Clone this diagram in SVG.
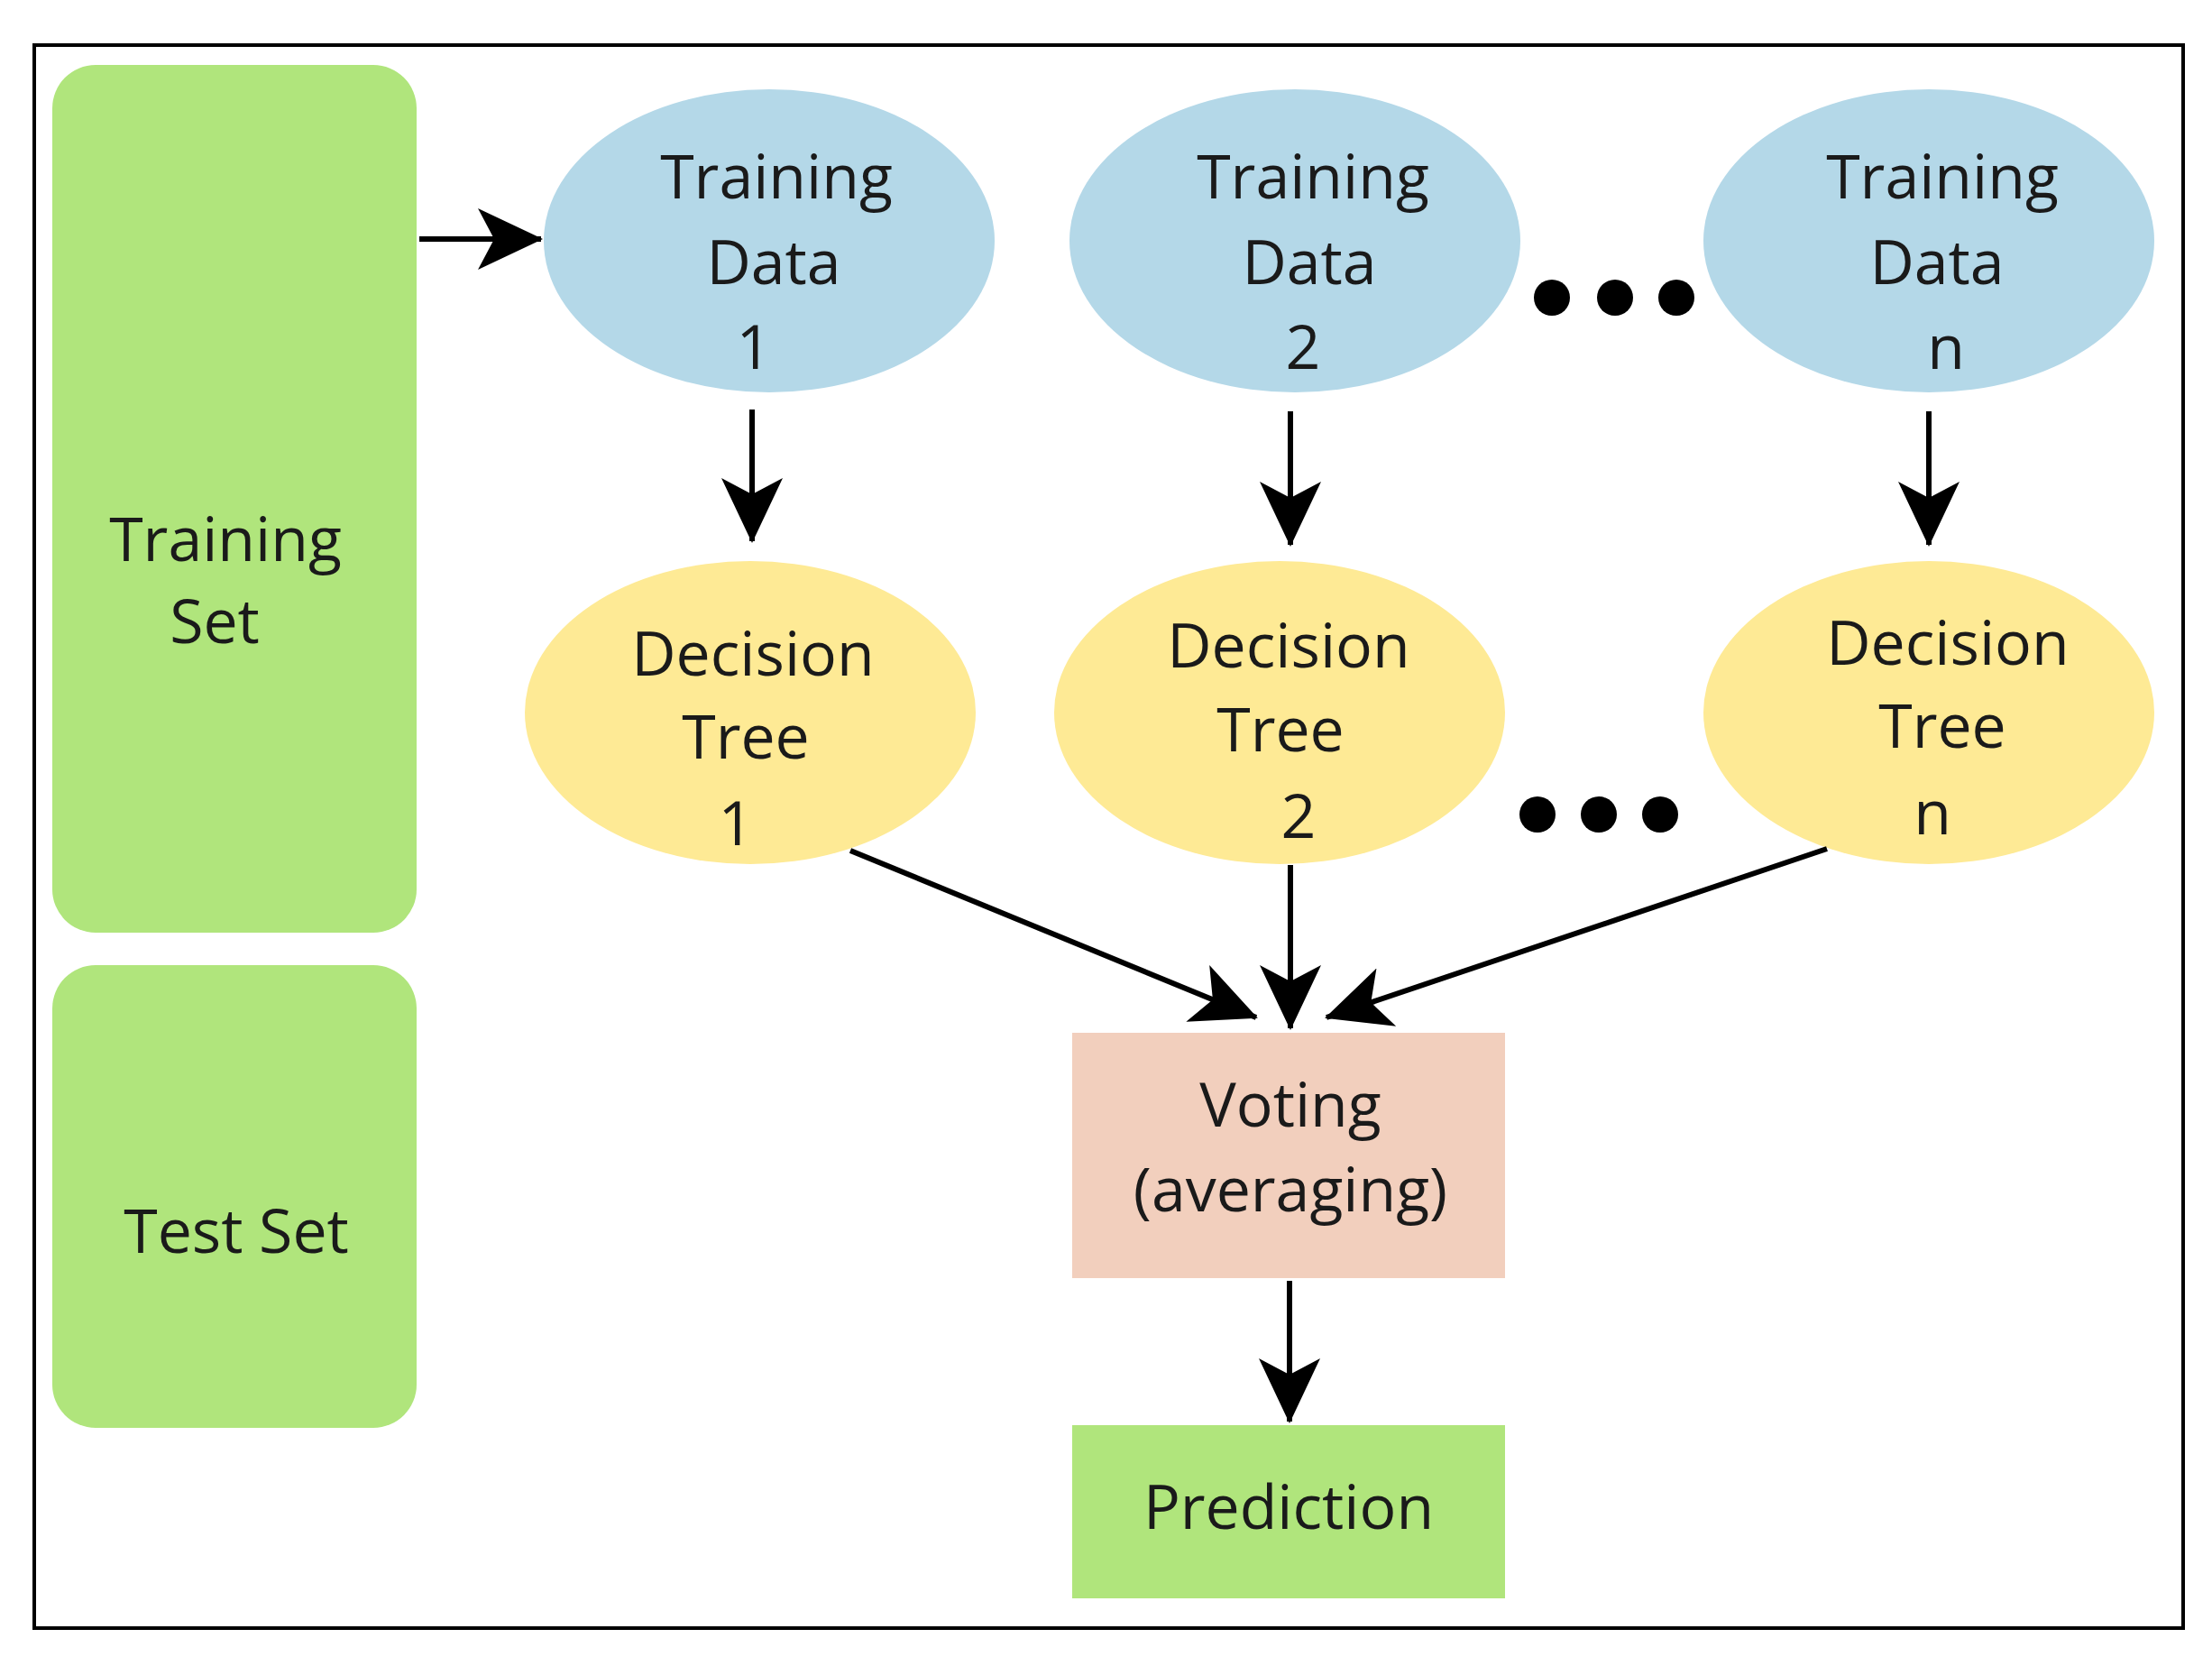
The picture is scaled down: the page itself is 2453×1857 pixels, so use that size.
<svg xmlns="http://www.w3.org/2000/svg" width="2453" height="1857" viewBox="0 0 2453 1857">
<style>
.t{font-family:"Open Sans","Noto Sans",sans-serif;font-size:68px;fill:#1a1a1a;text-anchor:middle;dominant-baseline:central}
.c{stroke:#000;stroke-width:6;fill:none;marker-end:url(#ah)}
.g{fill:#b0e57c}.b{fill:#b4d8e8}.y{fill:#feea95}.p{fill:#f2cfbd}
</style>
<defs><marker id="ah" markerUnits="userSpaceOnUse" markerWidth="80" markerHeight="80" viewBox="0 0 80 80" refX="70" refY="40" orient="auto"><path d="M0,6 L72,40 L0,74 L18,40 Z" fill="#000"/></marker></defs>
<rect x="38" y="50" width="2383" height="1755" fill="#fff" stroke="#000" stroke-width="4"/>
<g id="trainingset"><rect class="g" x="58" y="72" width="404" height="962" rx="48"/><text class="t" x="250" y="595">Training</text><text class="t" x="238" y="686">Set</text></g>
<g id="testset"><rect class="g" x="58" y="1070" width="404" height="513" rx="48"/><text class="t" x="262" y="1362">Test Set</text></g>
<g id="td1"><ellipse class="b" cx="853" cy="267" rx="250" ry="168"/><text class="t" x="861" y="193">Training</text><text class="t" x="858" y="288">Data</text><text class="t" x="836" y="382">1</text></g>
<g id="td2"><ellipse class="b" cx="1436" cy="267" rx="250" ry="168"/><text class="t" x="1456" y="193">Training</text><text class="t" x="1452" y="288">Data</text><text class="t" x="1445" y="382">2</text></g>
<g id="tdn"><ellipse class="b" cx="2139" cy="267" rx="250" ry="168"/><text class="t" x="2154" y="193">Training</text><text class="t" x="2148" y="288">Data</text><text class="t" x="2158" y="382">n</text></g>
<g id="dt1"><ellipse class="y" cx="832" cy="790" rx="250" ry="168"/><text class="t" x="835" y="722">Decision</text><text class="t" x="827" y="814">Tree</text><text class="t" x="816" y="910">1</text></g>
<g id="dt2"><ellipse class="y" cx="1419" cy="790" rx="250" ry="168"/><text class="t" x="1429" y="713">Decision</text><text class="t" x="1420" y="806">Tree</text><text class="t" x="1440" y="902">2</text></g>
<g id="dtn"><ellipse class="y" cx="2139" cy="790" rx="250" ry="168"/><text class="t" x="2160" y="710">Decision</text><text class="t" x="2154" y="802">Tree</text><text class="t" x="2143" y="898">n</text></g>
<g id="dots1"><circle cx="1721" cy="330" r="20"/><circle cx="1791" cy="330" r="20"/><circle cx="1859" cy="330" r="20"/></g>
<g id="dots2"><circle cx="1705" cy="903" r="20"/><circle cx="1773" cy="903" r="20"/><circle cx="1841" cy="903" r="20"/></g>
<g id="voting"><rect class="p" x="1189" y="1145" width="480" height="272"/><text class="t" x="1431" y="1222">Voting</text><text class="t" x="1431" y="1316">(averaging)</text></g>
<g id="prediction"><rect class="g" x="1189" y="1580" width="480" height="192"/><text class="t" x="1429" y="1668">Prediction</text></g>
<g id="connectors">
<path class="c" d="M465,265 L600,265"/>
<path class="c" d="M834,454 L834,600"/>
<path class="c" d="M1431,456 L1431,604"/>
<path class="c" d="M2139,456 L2139,604"/>
<path class="c" d="M943,943 L1393,1128"/>
<path class="c" d="M1431,959 L1431,1140"/>
<path class="c" d="M2026,941 L1471,1128"/>
<path class="c" d="M1430,1420 L1430,1576"/>
</g>
</svg>
